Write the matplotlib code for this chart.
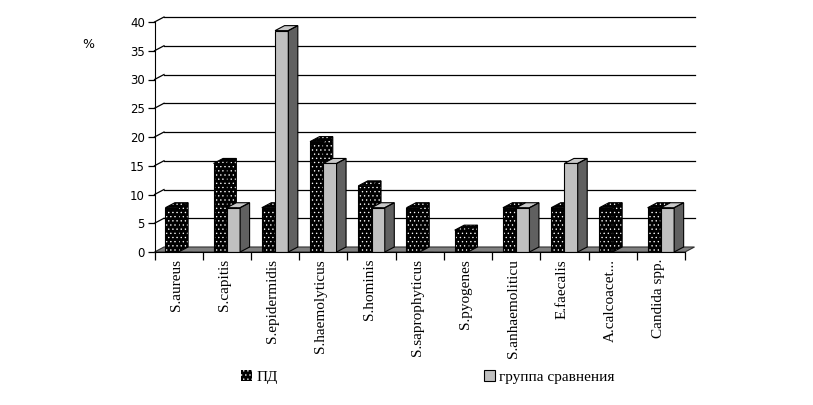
import numpy as np
import matplotlib
matplotlib.use('Agg')
from matplotlib import pyplot as plt
from matplotlib.patches import Polygon

categories = ['S.aureus', 'S.capitis', 'S.epidermidis', 'S.haemolyticus', 'S.hominis',
              'S.saprophyticus', 'S.pyogenes', 'S.anhaemoliticu', 'E.faecalis',
              'A.calcoacet...', 'Candida spp.']
pd_values = [7.7, 15.4, 7.7, 19.2, 11.5, 7.7, 3.8, 7.7, 7.7, 7.7, 7.7]
cmp_values = [0, 7.7, 38.5, 15.4, 7.7, 0, 0, 7.7, 15.4, 0, 7.7]
yticks = [0, 5, 10, 15, 20, 25, 30, 35, 40]

W, H = 813, 405
fig = plt.figure(figsize=(W / 100, H / 100), dpi=100)

# pixel geometry of the fake 3D box
x0_px, x1_px = 154.5, 685.0
y0_px, y40_px = 252.0, 22.0
dx_px, dy_px = 9.5, 5.0
n = len(categories)
ux = (x1_px - x0_px) / n
uy = (y0_px - y40_px) / 40.0
DX = dx_px / ux
DY = dy_px / uy

left = x0_px / W
right = (x1_px + dx_px) / W
bottom = (H - y0_px) / H
top = (H - (y40_px - dy_px)) / H
ax = fig.add_axes([left, bottom, right - left, top - bottom])
ax.set_xlim(0, n + DX)
ax.set_ylim(0, 40 + DY)

# back wall grid lines + left wall diagonals
for v in yticks[1:]:
    ax.plot([DX, n + DX], [v + DY, v + DY], color='black', lw=0.9, zorder=1, clip_on=False)
    ax.plot([0, DX], [v, v + DY], color='black', lw=0.9, zorder=1, clip_on=False)

# floor
floor = Polygon([(0, 0), (n, 0), (n + DX, DY), (DX, DY)], closed=True,
                facecolor='#808080', edgecolor='#303030', lw=0.8, zorder=2, clip_on=False)
ax.add_patch(floor)

bw = 0.275
idx = np.arange(n)
plt.rcParams['hatch.linewidth'] = 0.45


def bar3d(xs, vals, face, side, topc, hatch, z, label):
    rects = ax.bar(xs, vals, bw, align='edge', color=face, edgecolor='white' if hatch else 'black',
                   hatch=hatch, lw=0 if hatch else 0.8, zorder=z, label=label)
    for r in rects:
        x, h, w = r.get_x(), r.get_height(), r.get_width()
        if h <= 0:
            continue
        if hatch:
            ax.add_patch(Polygon([(x, 0), (x + w, 0), (x + w, h), (x, h)], closed=True,
                                 fill=False, edgecolor='black', lw=0.8, zorder=z))
        sd = Polygon([(x + w, 0), (x + w + DX, DY), (x + w + DX, h + DY), (x + w, h)], closed=True,
                     facecolor=side, edgecolor='white' if hatch else 'black', hatch=hatch,
                     lw=0, zorder=z)
        tp = Polygon([(x, h), (x + w, h), (x + w + DX, h + DY), (x + DX, h + DY)], closed=True,
                     facecolor=topc, edgecolor='white' if hatch else 'black', hatch=hatch,
                     lw=0, zorder=z)
        ax.add_patch(sd)
        ax.add_patch(tp)
        for p in (sd, tp):
            ax.add_patch(Polygon(p.get_xy(), closed=True, fill=False, edgecolor='black',
                                 lw=0.8, zorder=z))
    return rects


b1 = bar3d(idx + 0.5 - bw, pd_values, 'black', 'black', 'black', '....', 3, 'ПД')
b2 = bar3d(idx + 0.5, cmp_values, '#c0c0c0', '#606060', '#c8c8c8', None, 4, 'группа сравнения')

for s in ['top', 'right']:
    ax.spines[s].set_visible(False)
ax.spines['bottom'].set_bounds(0, n)
ax.spines['left'].set_bounds(0, 40)
ax.spines['bottom'].set_zorder(5)

ax.set_yticks(yticks)
ax.set_yticklabels([str(v) for v in yticks], fontsize=8.5, family='DejaVu Sans')
ax.tick_params(axis='y', length=5, width=0.9, pad=2)
ax.set_xticks(np.arange(n + 1))
ax.set_xticklabels([])
ax.tick_params(axis='x', which='major', length=6, width=0.9)
ax.set_xticks(idx + 0.45, minor=True)
ax.set_xticklabels(categories, minor=True, rotation=90, va='top', ha='center',
                   family='Liberation Serif', fontsize=11)
ax.tick_params(axis='x', which='minor', length=0, pad=5)

fig.text(88 / W, 1 - 44 / H, '%', fontsize=9, family='DejaVu Sans', ha='center', va='center')

fig.legend(handles=[b1, b2], loc='center', bbox_to_anchor=(428 / W, 1 - 377 / H), ncol=2,
           frameon=False, prop={'family': 'Liberation Serif', 'size': 11},
           handlelength=0.7, handleheight=0.7, handletextpad=0.3, columnspacing=13.5)

fig.savefig('out.png', dpi=100)
